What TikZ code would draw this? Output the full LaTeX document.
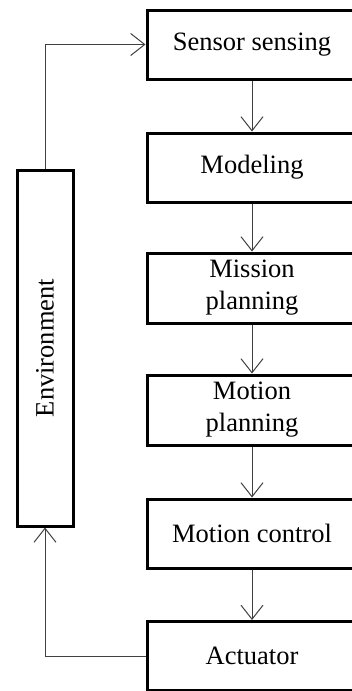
\documentclass[tikz,border=0pt]{standalone}
\usepackage{fontspec}
\setmainfont{Liberation Serif}
\usepackage{xcolor}
\usepackage{tikz}
\usetikzlibrary{arrows.meta}

\tikzset{
    blockbox/.style={draw, line width=3pt, minimum width=210pt, minimum height=69pt,
        align=center, font=\fontsize{26.5}{32}\selectfont, inner sep=0pt},
    flowline/.style={line width=1pt, draw=black!75, -{Straight Barb[length=14pt,width=22pt]}}
}

\begin{document}
\begin{tikzpicture}[x=1pt, y=-1pt]
        \useasboundingbox (0,0) rectangle (351,691);

        \node[blockbox] (sense) at (252, 44.5) {Sensor sensing};
        \node[blockbox] (model) at (252, 167.5) {Modeling};
        \node[blockbox, minimum height=70pt] (mission) at (252, 288) {Mission\\planning};
        \node[blockbox, minimum height=70pt] (motplan) at (252, 410) {Motion\\planning};
        \node[blockbox] (motctrl) at (252, 533.5) {Motion control};
        \node[blockbox] (act) at (252, 656) {Actuator};
        \node[blockbox, minimum width=356pt, minimum height=56pt, rotate=90] (env) at (45, 348) {Environment};

        \draw[flowline] (sense) -- (model);
        \draw[flowline] (model) -- (mission);
        \draw[flowline] (mission) -- (motplan);
        \draw[flowline] (motplan) -- (motctrl);
        \draw[flowline] (motctrl) -- (act);
        \draw[flowline] (act.west) -| (env.west);
        \draw[flowline] (env.east) |- (sense.west);
    \end{tikzpicture}
\end{document}
